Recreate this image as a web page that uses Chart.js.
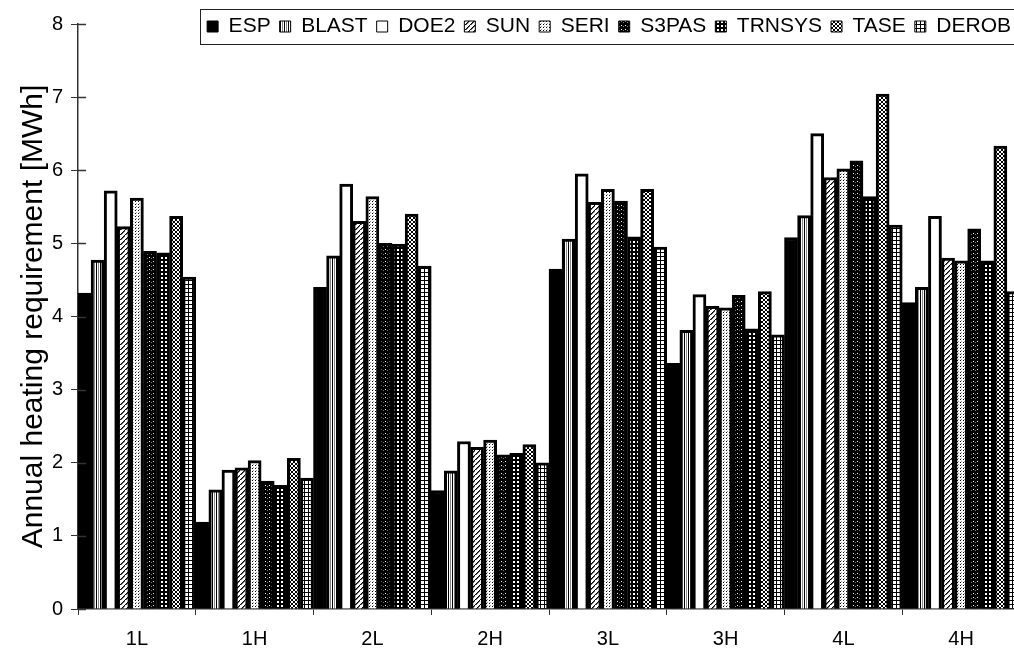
<!DOCTYPE html>
<html>
<head>
<meta charset="utf-8">
<script src="https://cdn.jsdelivr.net/npm/chart.js@4"></script>
<style>
  html, body { margin: 0; padding: 0; background: #fff; overflow: hidden; }
  #wrap { width: 1030px; height: 653px; }
</style>
</head>
<body>
<div id="wrap"><canvas id="heatChart" width="1030" height="653"></canvas></div>
<script>
const categories = ['1L', '1H', '2L', '2H', '3L', '3H', '4L', '4H'];
const programs = ['ESP', 'BLAST', 'DOE2', 'SUN', 'SERI', 'S3PAS', 'TRNSYS', 'TASE', 'DEROB'];

const esp    = [4.32, 1.19, 4.40, 1.62, 4.65, 3.36, 5.08, 4.19];
const blast  = [4.77, 1.63, 4.83, 1.89, 5.06, 3.81, 5.38, 4.40];
const doe2   = [5.72, 1.90, 5.81, 2.29, 5.95, 4.30, 6.50, 5.37];
const sun    = [5.23, 1.93, 5.30, 2.21, 5.56, 4.14, 5.90, 4.80];
const seri   = [5.62, 2.03, 5.64, 2.31, 5.74, 4.12, 6.02, 4.76];
const s3pas  = [4.89, 1.75, 5.00, 2.11, 5.58, 4.29, 6.13, 5.20];
const trnsys = [4.87, 1.69, 4.99, 2.13, 5.09, 3.83, 5.64, 4.76];
const tase   = [5.37, 2.06, 5.40, 2.25, 5.74, 4.34, 7.04, 6.33];
const derob  = [4.54, 1.79, 4.69, 2.00, 4.95, 3.75, 5.25, 4.34];

const yTicks = [0, 1, 2, 3, 4, 5, 6, 7, 8];

// little tile patterns, like the old b/w print
function tile(w, h, bg, draw) {
    const c = document.createElement('canvas');
    c.width = w; c.height = h;
    const g = c.getContext('2d');
    g.fillStyle = bg;
    g.fillRect(0, 0, w, h);
    g.fillStyle = '#000';
    draw(g);
    return document.createElement('canvas').getContext('2d').createPattern(c, 'repeat');
}

const fills = [
    '#000',
    tile(4, 4, '#fff', g => { g.fillRect(0, 0, 1, 4); g.fillStyle = '#888'; g.fillRect(2, 0, 1, 4); }),
    '#fff',
    tile(5, 5, '#fff', g => { for (let i = 0; i < 5; i++) { g.fillRect(4 - i, i, 1.6, 1); } }),
    tile(3, 3, '#fff', g => { g.fillRect(0, 0, 1, 1); g.fillStyle = '#999'; g.fillRect(1, 2, 1, 1); }),
    tile(4, 4, '#000', g => { g.fillStyle = '#fff'; g.fillRect(1, 1, 1, 1); g.fillStyle = '#777'; g.fillRect(3, 2, 1, 1); }),
    tile(4, 4, '#000', g => { g.fillStyle = '#fff'; g.fillRect(1, 1, 2, 2); }),
    tile(4, 4, '#fff', g => { [[0,0],[1,1],[2,2],[3,3],[3,0],[2,1],[1,2],[0,3]].forEach(p => g.fillRect(p[0], p[1], 1, 1)); }),
    tile(4, 4, '#fff', g => { g.fillRect(0, 0, 4, 1); g.fillRect(0, 0, 1, 4); })
];

const series = [esp, blast, doe2, sun, seri, s3pas, trnsys, tase, derob];

const datasets = programs.map((name, i) => ({
    label: name,
    data: series[i],
    backgroundColor: fills[i],
    borderColor: '#000',
    borderWidth: 3,
    borderSkipped: 'bottom',
    categoryPercentage: 1.0,
    barPercentage: 1.0
}));

// legend frame + small inner ticks on the y axis
const extras = {
    id: 'extras',
    beforeInit(chart) {
        // the legend sits over the top of the plot, keep it from pushing the plot down
        const lg = chart.legend;
        const fit = lg.fit;
        lg.fit = function () { fit.call(this); this.height = 17; };
        const draw = lg.draw;
        lg.draw = function () {
            const b = this.bottom;
            this.bottom = this.top + 45;
            draw.call(this);
            this.bottom = b;
        };
    },
    afterDraw(chart) {
        const ctx = chart.ctx;
        const boxes = chart.legend.legendHitBoxes;
        if (boxes && boxes.length) {
            const left = Math.round(boxes[0].left) - 7;
            ctx.save();
            ctx.strokeStyle = '#222';
            ctx.lineWidth = 1;
            ctx.strokeRect(left + 0.5, 9.5, chart.width - left, 35);
            ctx.restore();
        }
        const y = chart.scales.y;
        const a = chart.chartArea;
        ctx.save();
        ctx.strokeStyle = '#333';
        ctx.lineWidth = 1.5;
        yTicks.forEach(v => {
            const py = Math.round(y.getPixelForValue(v)) + 0.5;
            ctx.beginPath();
            ctx.moveTo(a.left, py);
            ctx.lineTo(a.left + 8, py);
            ctx.stroke();
        });
        ctx.restore();
    }
};

new Chart(document.getElementById('heatChart'), {
    type: 'bar',
    data: { labels: categories, datasets: datasets },
    plugins: [extras],
    options: {
        responsive: false,
        animation: false,
        layout: { padding: { top: 7, right: 10, left: 0, bottom: 0 } },
        plugins: {
            legend: {
                position: 'top',
                align: 'end',
                labels: {
                    color: '#000',
                    font: { family: 'Liberation Sans', size: 21 },
                    boxWidth: 11,
                    boxHeight: 11,
                    padding: 9,
                    generateLabels: chart => {
                        const items = Chart.defaults.plugins.legend.labels.generateLabels(chart);
                        items.forEach(it => { it.lineWidth = 1; });
                        return items;
                    }
                }
            },
            tooltip: { enabled: false }
        },
        scales: {
            x: {
                offset: true,
                grid: { offset: true, drawOnChartArea: false, tickLength: 6, color: '#333' },
                border: { color: '#333', width: 1.5 },
                ticks: { color: '#000', font: { family: 'Liberation Sans', size: 20 }, padding: 12 },
                afterFit: s => { s.height = 44; }
            },
            y: {
                min: 0,
                max: 8,
                afterBuildTicks: s => { s.ticks = yTicks.map(v => ({ value: v })); },
                grid: { drawOnChartArea: false, tickLength: 7, color: '#333' },
                border: { color: '#333', width: 1.5 },
                ticks: { color: '#000', font: { family: 'Liberation Sans', size: 20 }, padding: 8 },
                title: {
                    display: true,
                    text: 'Annual heating requirement [MWh]',
                    color: '#000',
                    font: { family: 'Liberation Sans', size: 30 },
                    padding: { top: 16, bottom: 0 }
                },
                afterFit: s => { s.width = 78; }
            }
        }
    }
});
</script>
</body>
</html>
